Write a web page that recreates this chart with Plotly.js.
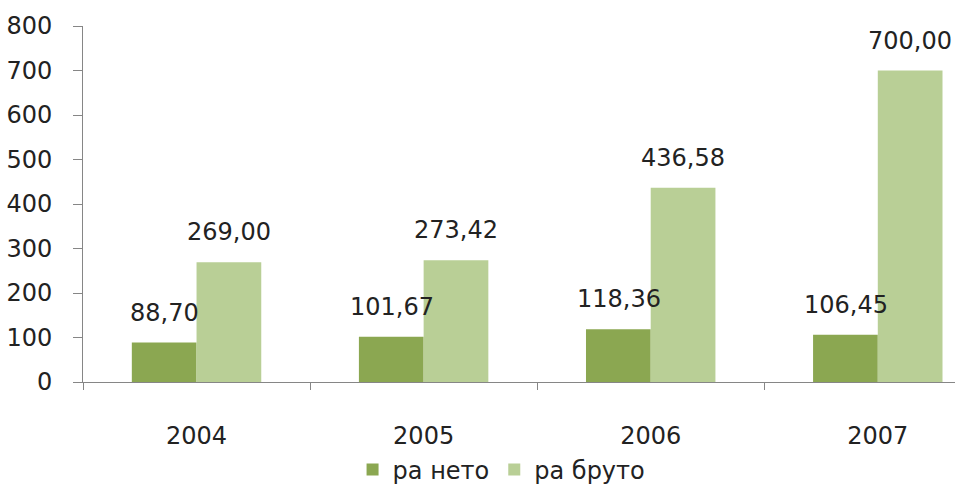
<!DOCTYPE html>
<html><head><meta charset="utf-8">
<script src="https://cdn.plot.ly/plotly-3.0.1.min.js"></script>
<style>html,body{margin:0;padding:0;background:#fff}</style>
</head><body><div id="chart" style="width:955px;height:484px"></div>
<script>
const years = ["2004", "2005", "2006", "2007"];
const neto = [88.70, 101.67, 118.36, 106.45];
const bruto = [269.00, 273.42, 436.58, 700.00];
const seriesNames = ["ра нето", "ра бруто"];
const yTicks = [0, 100, 200, 300, 400, 500, 600, 700, 800];

const fmt = v => v.toFixed(2).replace('.', ',');
const mkFont = () => ({family: "DejaVu Sans", size: 24, color: "#222"});

const traces = [
  {type: "bar", name: seriesNames[0], x: years, y: neto, marker: {color: "#8BA751"}},
  {type: "bar", name: seriesNames[1], x: years, y: bruto, marker: {color: "#B9CF96"}}
];

const annotations = [];
years.forEach((yr, i) => {
  annotations.push({x: i, y: neto[i], xref: "x", yref: "y", text: fmt(neto[i]), showarrow: false,
    xshift: -32, yshift: 14, yanchor: "bottom", xanchor: "center", font: mkFont()});
  annotations.push({x: i, y: bruto[i], xref: "x", yref: "y", text: fmt(bruto[i]), showarrow: false,
    xshift: 32, yshift: 14, yanchor: "bottom", xanchor: "center", font: mkFont()});
});

const layout = {
  width: 955, height: 484,
  margin: {l: 83, r: 0, t: 26, b: 102, autoexpand: false},
  paper_bgcolor: "#fff", plot_bgcolor: "#fff",
  font: mkFont(),
  barmode: "group", bargap: 0.43, bargroupgap: 0,
  xaxis: {type: "category", range: [-0.5, 3.34], tickson: "boundaries", ticks: "outside", ticklen: 7,
    tickcolor: "#868686", showline: true, linecolor: "#868686", linewidth: 1, showgrid: false,
    zeroline: false, ticklabelstandoff: 32, tickfont: mkFont(), automargin: false},
  yaxis: {range: [0, 800], tickvals: yTicks, ticks: "outside", ticklen: 9, tickcolor: "#868686",
    showline: true, linecolor: "#868686", linewidth: 1, showgrid: false, zeroline: false,
    ticklabelstandoff: 16, tickfont: mkFont(), automargin: false},
  showlegend: true,
  legend: {orientation: "h", x: 0.48, xanchor: "center", y: -0.247, yanchor: "middle",
    font: mkFont(), tracegroupgap: 0},
  annotations: annotations
};

Plotly.newPlot("chart", traces, layout, {displayModeBar: false, staticPlot: true});
</script></body></html>
